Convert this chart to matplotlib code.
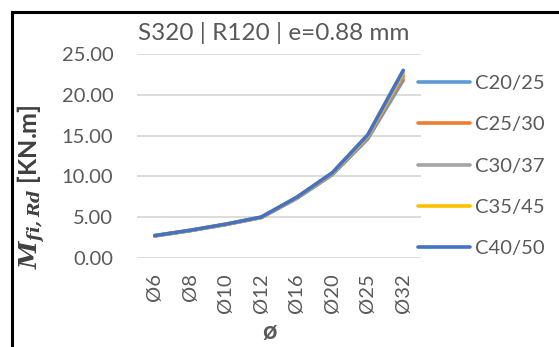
import matplotlib
matplotlib.use("Agg")
import matplotlib.pyplot as plt
from matplotlib.lines import Line2D

categories = ["Ø6", "Ø8", "Ø10", "Ø12", "Ø16", "Ø20", "Ø25", "Ø32"]
series_names = ["C20/25", "C25/30", "C30/37", "C35/45", "C40/50"]
c20_25 = [2.70, 3.35, 4.10, 4.95, 7.30, 10.20, 14.60, 21.80]
c25_30 = [2.72, 3.37, 4.12, 4.97, 7.36, 10.30, 14.80, 22.20]
c30_37 = [2.73, 3.38, 4.13, 4.99, 7.40, 10.36, 14.90, 22.50]
c35_45 = [2.74, 3.39, 4.14, 5.00, 7.43, 10.40, 15.00, 22.80]
c40_50 = [2.75, 3.40, 4.15, 5.02, 7.45, 10.45, 15.10, 23.00]
series_values = [c20_25, c25_30, c30_37, c35_45, c40_50]
colors = ["#5B9BD5", "#ED7D31", "#A5A5A5", "#FFC000", "#4472C4"]
yticks = [0, 5, 10, 15, 20, 25]

plt.rcParams['font.family'] = ['Lato', 'DejaVu Sans']
plt.rcParams['mathtext.fontset'] = 'custom'
plt.rcParams['mathtext.bf'] = 'DejaVu Serif:bold:italic'
plt.rcParams['mathtext.rm'] = 'DejaVu Serif:bold:italic'

W, H = 559, 347
fig = plt.figure(figsize=(W / 100, H / 100), dpi=100)
ax = fig.add_axes([137 / W, 1 - 258 / H, (421 - 137) / W, (258 - 54) / H])

x = list(range(len(categories)))
for name, vals, col in zip(series_names, series_values, colors):
    ax.plot(x, vals, color=col, lw=2.6, label=name, solid_capstyle='round')

ax.set_xlim(-0.5, len(categories) - 0.5)
ax.set_ylim(0, 25)
ax.set_yticks(yticks)
ax.set_yticklabels([f"{v:.2f}" for v in yticks])
ax.set_xticks(x)
ax.set_xticklabels(categories, rotation=90)
ax.tick_params(axis='both', length=0, labelsize=14.5, colors='#595959')
ax.tick_params(axis='y', pad=17)
ax.tick_params(axis='x', pad=11)
ax.grid(axis='y', color='#D9D9D9', lw=1.3)
ax.set_axisbelow(True)
for s in ax.spines.values():
    s.set_visible(False)

fig.text(274 / W, 1 - 33 / H, "S320 | R120 | e=0.88 mm", ha='center', va='center',
         fontsize=17.5, color='#595959')
fig.text(270 / W, 1 - 331 / H, "ø", ha='center', va='center', fontsize=18,
         fontweight='bold', color='#595959')
fig.text(32 / W, 1 - 187 / H, r"$\mathbf{M_{fi,Rd}}$ [KN.m]", rotation=90,
         ha='center', va='center', fontsize=18, fontweight='bold', color='#404040')

leg = fig.legend(loc='upper left', bbox_to_anchor=(418 / W, 1 - 75 / H), frameon=False,
                 fontsize=14.5, handlelength=2.6, handletextpad=0.25, labelspacing=1.2,
                 borderaxespad=0, borderpad=0)
for t in leg.get_texts():
    t.set_color('#595959')

fig.add_artist(Line2D([12 / W, 1], [1 - 12 / H, 1 - 12 / H], color='black', lw=2.2,
                      transform=fig.transFigure))
fig.add_artist(Line2D([12 / W, 12 / W], [1 - 12 / H, 0], color='black', lw=2.2,
                      transform=fig.transFigure))

fig.savefig("out.png", dpi=100)
